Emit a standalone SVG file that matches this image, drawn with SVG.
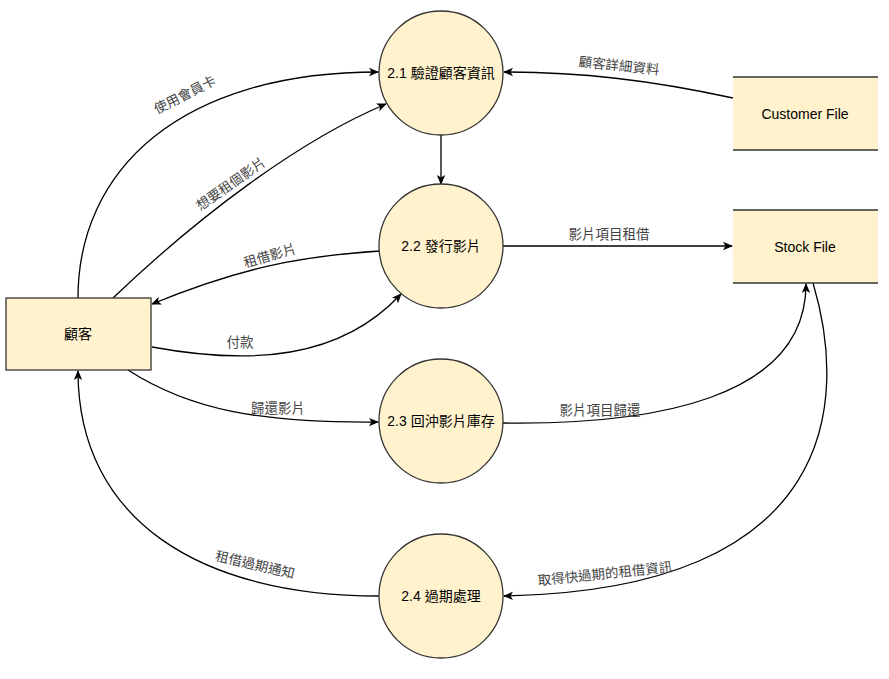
<svg xmlns="http://www.w3.org/2000/svg" width="889" height="679" viewBox="0 0 889 679">
<defs>
<style>
.proc{fill:#fff2cc;stroke:#333;stroke-width:1.3}
.ent{fill:#fff2cc;stroke:#333;stroke-width:1.3}
.store{fill:#fff2cc;stroke:none}
.storeline{stroke:#333;stroke-width:1.5;fill:none}
.nt{font-family:"Liberation Sans","Noto Sans CJK TC",sans-serif;font-size:14px;fill:#000;text-anchor:middle;dominant-baseline:central}
.lb{font-family:"Liberation Sans","Noto Sans CJK TC",sans-serif;font-size:13.5px;fill:#444;text-anchor:middle;dominant-baseline:central}
.edge{fill:none;stroke:#000;stroke-width:1.3;marker-end:url(#arr)}
</style>
<marker id="arr" viewBox="0 0 10 10" refX="9" refY="5" markerWidth="10" markerHeight="10" markerUnits="userSpaceOnUse" orient="auto">
<path d="M0,0.8 L10,5 L0,9.2 L2.5,5 z" fill="#000"/>
</marker>
</defs>
<rect width="889" height="679" fill="#fff"/>

<g id="connectors">
<path class="edge" d="M78 298 C78 170 180 72 378 72"/>
<path class="edge" d="M113 298 C200 215 300 140 386 104"/>
<path class="edge" d="M441 135 L441 184"/>
<path class="edge" d="M733 98 C650 80 580 72 504 72"/>
<path class="edge" d="M380 251 C300 256 240 268 152 304"/>
<path class="edge" d="M152 347 C250 365 340 360 401 294"/>
<path class="edge" d="M503 246 L732 246"/>
<path class="edge" d="M128 370 C190 410 260 423 378 422"/>
<path class="edge" d="M503 423 C650 425 806 400 806 284"/>
<path class="edge" d="M813 283 C848 400 840 590 504 596"/>
<path class="edge" d="M379 596 C200 596 78 520 78 371"/>
<text class="lb" transform="translate(185,95) rotate(-27)">使用會員卡</text>
<text class="lb" transform="translate(231,184) rotate(-35)">想要租個影片</text>
<text class="lb" transform="translate(619,66) rotate(6)">顧客詳細資料</text>
<text class="lb" transform="translate(270,256) rotate(-16)">租借影片</text>
<text class="lb" x="240" y="342">付款</text>
<text class="lb" x="609" y="234">影片項目租借</text>
<text class="lb" x="278" y="408">歸還影片</text>
<text class="lb" x="600" y="410">影片項目歸還</text>
<text class="lb" transform="translate(605,574) rotate(-6)">取得快過期的租借資訊</text>
<text class="lb" transform="translate(255,565) rotate(13)">租借過期通知</text>
</g>

<g id="p21">
<circle class="proc" cx="441" cy="73" r="62"/>
<text class="nt" x="441" y="73">2.1 驗證顧客資訊</text>
</g>
<g id="p22">
<circle class="proc" cx="441" cy="246" r="62"/>
<text class="nt" x="441" y="246">2.2 發行影片</text>
</g>
<g id="p23">
<circle class="proc" cx="441" cy="421" r="62"/>
<text class="nt" x="441" y="421">2.3 回沖影片庫存</text>
</g>
<g id="p24">
<circle class="proc" cx="441" cy="596" r="62"/>
<text class="nt" x="441" y="596">2.4 過期處理</text>
</g>
<g id="customer">
<rect class="ent" x="6" y="298" width="145" height="72"/>
<text class="nt" x="78" y="334">顧客</text>
</g>
<g id="customerfile">
<rect class="store" x="733" y="77" width="145" height="73"/>
<line class="storeline" x1="733" y1="77" x2="878" y2="77"/>
<line class="storeline" x1="733" y1="150" x2="878" y2="150"/>
<text class="nt" x="805" y="114">Customer File</text>
</g>
<g id="stockfile">
<rect class="store" x="733" y="210" width="145" height="73"/>
<line class="storeline" x1="733" y1="210" x2="878" y2="210"/>
<line class="storeline" x1="733" y1="283" x2="878" y2="283"/>
<text class="nt" x="805" y="247">Stock File</text>
</g>
</svg>
